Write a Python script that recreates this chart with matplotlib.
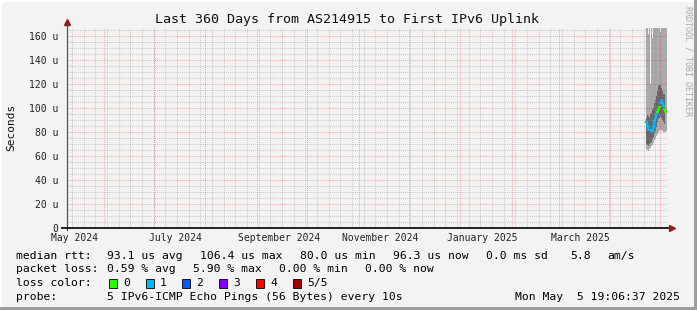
import numpy as np
import pandas as pd
import matplotlib
matplotlib.use("Agg")
import matplotlib.pyplot as plt
from matplotlib.lines import Line2D
from matplotlib.patches import Rectangle

plt.rcParams['font.family'] = ['DejaVu Sans Mono']

# graph window
end_time = pd.Timestamp("2025-05-05 19:06:37")
start_time = end_time - pd.Timedelta(days=360)
first_sample = pd.Timestamp("2025-04-23 04:42")   # consolidated steps of 14.4 h

nan = np.nan
# median rtt in microseconds, per consolidated step
median_us = [88, 85, 82, 82, 82, 81, 80, 84, 89, 92, 95, 97, 99, 101, 104,
             106.4, 104, 102, 99, 96.3, nan]
# lost pings per step (index into loss colours)
loss = [1, 1, 1, 1, 1, 1, 1, 1, 1, 1, 1, 0, 0, 0, 1, 1, 1, 1, 0, 0, 0]
# smoke: inner (dark) and outer (light) ping ranges
dark_lo = [70, 69, 68, 70, 71, 72, 74, 76, 79, 81, 84, 88, 91, 92, 93, 92, 90, 88, 87, 88, nan]
dark_hi = [92, 94, 93, 92, 95, 96, 98, 100, 104, 107, 110, 114, 118, 119, 119, 117, 114, 112, 112, 113, nan]
light_lo = [66, 65, 64, 66, 67, 68, 69, 71, 73, 75, 77, 78, 80, 81, 82, 82, 81, 80, 80, 80, 81]
light_hi = [170, 170, 162, 170, 120, 170, 158, 170, 170, 170, 170, 170, 170, 170, 163, 170,
            170, 170, 170, 170, 170]

loss_labels = ["0", "1", "2", "3", "4", "5/5"]
loss_colors = ["#26ff00", "#00b8ff", "#0059ff", "#7e00ff", "#ff0000", "#a10000"]

rtt_legend = [("93.1 us avg", 107), ("106.4 us max", 200), ("80.0 us min", 300),
              ("96.3 us now", 393), ("0.0 ms sd", 486), ("5.8", 570), ("am/s", 607)]
loss_legend = [("0.59 % avg", 107), ("5.90 % max", 193), ("0.00 % min", 279),
               ("0.00 % now", 365)]

BACK = "#f3f3f3"
LIGHT = "#aaaaaa"
DARK = "#686868"
W, H = 697, 310


def fx(px):
    return px / W


def fy(py):
    return 1 - py / H


fig = plt.figure(figsize=(W / 100, H / 100), dpi=100, facecolor=BACK)
ax = fig.add_axes([fx(67), fy(228), 600 / W, 200 / H], facecolor=BACK)

t_edges = pd.date_range(first_sample, periods=len(median_us) + 1, freq="864min")


def stepped(v):
    v = np.asarray(v, dtype=float)
    return np.append(v, v[-1])


ax.fill_between(t_edges, stepped(light_lo), stepped(light_hi), step="post",
                color=LIGHT, lw=0, zorder=1)
ax.fill_between(t_edges, stepped(dark_lo), stepped(dark_hi), step="post",
                color=DARK, lw=0, zorder=1.2)

med = np.asarray(median_us, dtype=float)
lvl = np.asarray(loss)
for i, col in enumerate(loss_colors):
    y = np.where(lvl == i, med, np.nan)
    ax.step(t_edges, stepped(y), where="post", color=col, lw=1.6, zorder=1.5)

ax.set_xlim(start_time, end_time)
ax.set_ylim(0, 166.67)

# grid: red for months / 20 u, grey dotted for weeks / 5 u
mgrid = dict(color="#ff0000", alpha=0.3, lw=0.75, ls=(0, (1, 1)), zorder=3)
grid = dict(color="#999999", alpha=0.45, lw=0.75, ls=(0, (1, 1)), zorder=2.9)
for d in pd.date_range(start_time, end_time, freq="W-MON"):
    ax.axvline(d, **grid)
for d in pd.date_range(start_time, end_time, freq="MS"):
    ax.axvline(d, **mgrid)
for v in np.arange(5, 166, 5):
    if v % 20:
        ax.axhline(v, **grid)
    else:
        ax.axhline(v, **mgrid)

ax.set_yticks(np.arange(0, 161, 20))
ax.set_yticklabels(["0"] + [f"{v} u" for v in range(20, 161, 20)])
label_dates = pd.date_range("2024-05-01", "2025-04-01", freq="2MS") + pd.Timedelta(days=14)
ax.set_xticks(label_dates)
ax.set_xticklabels([d.strftime("%B %Y") for d in label_dates])
ax.tick_params(axis="y", length=0, pad=6, labelsize=7, labelcolor="#222222")
ax.tick_params(axis="x", length=0, pad=3.6, labelsize=7, labelcolor="#222222")

for s in ax.spines.values():
    s.set_visible(False)

# axis lines with arrows
ax.add_line(Line2D([0, 0], [-0.01, 1.02], transform=ax.transAxes, color="#555555",
                   lw=0.9, clip_on=False, zorder=4))
ax.add_line(Line2D([-0.008, 1.005], [0, 0], transform=ax.transAxes, color="#111111",
                   lw=1.3, clip_on=False, zorder=4))
ax.plot([0], [1.03], marker="^", ms=4.5, color="#8f1f1f", transform=ax.transAxes,
        clip_on=False, zorder=5)
ax.plot([1.008], [0], marker=">", ms=4.5, color="#8f1f1f", transform=ax.transAxes,
        clip_on=False, zorder=5)

fig.text(fx(347), fy(19), "Last 360 Days from AS214915 to First IPv6 Uplink",
         ha="center", va="center", fontsize=9.6, color="#111111")
fig.text(fx(11), fy(127), "Seconds", rotation=90, ha="center", va="center",
         fontsize=8, color="#111111")
fig.text(fx(688), fy(61), "RRDTOOL / TOBI OETIKER", rotation=-90, ha="center",
         va="center", fontsize=6, color="#a8a8a8")

# legend block
fs = 8.2
rows = [256, 269.5, 283, 296.5]
fig.text(fx(16), fy(rows[0]), "median rtt:", fontsize=fs, va="center")
for txt, x in rtt_legend:
    fig.text(fx(x), fy(rows[0]), txt, fontsize=fs, va="center")
fig.text(fx(16), fy(rows[1]), "packet loss:", fontsize=fs, va="center")
for txt, x in loss_legend:
    fig.text(fx(x), fy(rows[1]), txt, fontsize=fs, va="center")
fig.text(fx(16), fy(rows[2]), "loss color:", fontsize=fs, va="center")
box_x = [109, 146, 182, 219, 256, 293]
for lab, col, x in zip(loss_labels, loss_colors, box_x):
    fig.add_artist(Rectangle((fx(x), fy(rows[2] + 5)), 8 / W, 9 / H,
                             transform=fig.transFigure, facecolor=col,
                             edgecolor="#000000", lw=0.6))
    fig.text(fx(x + 14), fy(rows[2]), lab, fontsize=fs, va="center")
fig.text(fx(16), fy(rows[3]), "probe:", fontsize=fs, va="center")
fig.text(fx(107), fy(rows[3]), "5 IPv6-ICMP Echo Pings (56 Bytes) every 10s",
         fontsize=fs, va="center")
fig.text(fx(680), fy(rows[3]), "Mon May  5 19:06:37 2025", fontsize=fs,
         va="center", ha="right")

# 3d-ish frame
fig.add_artist(Rectangle((0, fy(2)), 1, 2 / H, transform=fig.transFigure,
                         color="#ffffff", lw=0))
fig.add_artist(Rectangle((0, 0), 2 / W, 1, transform=fig.transFigure,
                         color="#ffffff", lw=0))
fig.add_artist(Rectangle((fx(694), 0), 3 / W, 1, transform=fig.transFigure,
                         color="#9d9d9d", lw=0))
fig.add_artist(Rectangle((0, 0), 1, 3 / H, transform=fig.transFigure,
                         color="#9d9d9d", lw=0))

fig.savefig("out.png", dpi=100, facecolor=BACK)
